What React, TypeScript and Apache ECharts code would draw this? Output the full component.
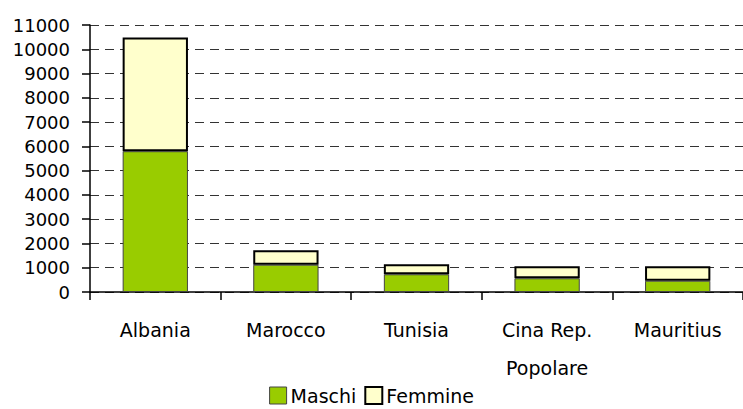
import React, { useEffect, useRef } from "react";
import * as echarts from "echarts";

const categories = ["Albania", "Marocco", "Tunisia", "Cina Rep.\nPopolare", "Mauritius"];
const maschi = [5800, 1125, 730, 565, 465];
const femmine = [4680, 595, 410, 495, 595];
const yTicks = { min: 0, max: 11000, interval: 1000 };

const FONT = "DejaVu Sans";

export default function App() {
  const ref = useRef<HTMLDivElement>(null);
  useEffect(() => {
    const chart = echarts.init(ref.current!, null, { renderer: "svg" });
    chart.setOption({
      animation: false,
      grid: { left: 90, top: 25, bottom: 117, width: 657 },
      legend: {
        bottom: -1,
        left: "center",
        itemWidth: 17,
        itemHeight: 17,
        itemGap: 8,
        icon: "rect",
        textStyle: { fontFamily: FONT, fontSize: 19, color: "#000", padding: [0, 0, 0, -1] },
        data: [
          { name: "Maschi", itemStyle: { color: "#99CC00", borderColor: "#444", borderWidth: 1 } },
          { name: "Femmine", itemStyle: { color: "#FFFFCC", borderColor: "#000", borderWidth: 2 } },
        ],
      },
      xAxis: {
        type: "category",
        data: categories,
        axisLine: { lineStyle: { color: "#000", width: 1.5 } },
        axisTick: { show: true, length: 8, inside: false, lineStyle: { color: "#000", width: 1.5 } },
        axisLabel: {
          fontFamily: FONT,
          fontSize: 19,
          color: "#000",
          margin: 19,
          lineHeight: 38,
          verticalAlign: "top",
        },
      },
      yAxis: {
        type: "value",
        min: yTicks.min,
        max: yTicks.max,
        interval: yTicks.interval,
        axisLine: { show: true, lineStyle: { color: "#000", width: 1.5 } },
        axisTick: { show: true, length: 8, lineStyle: { color: "#000", width: 1.5 } },
        axisLabel: {
          fontFamily: FONT,
          fontSize: 18,
          color: "#000",
          margin: 20,
          formatter: (v: number) => String(v),
        },
        splitLine: { show: true, lineStyle: { color: "#333", width: 1, type: [9, 6] } },
      },
      series: [
        {
          name: "Maschi",
          type: "bar",
          stack: "tot",
          data: maschi,
          barWidth: "50%",
          itemStyle: { color: "#99CC00", borderColor: "#444", borderWidth: 1 },
        },
        {
          name: "Femmine",
          type: "bar",
          stack: "tot",
          data: femmine,
          barWidth: "50%",
          itemStyle: { color: "#FFFFCC", borderColor: "#000", borderWidth: 2 },
        },
      ],
    });
    return () => chart.dispose();
  }, []);
  return <div ref={ref} style={{ width: 743, height: 409, position: "absolute", left: 0, top: 0 }} />;
}
